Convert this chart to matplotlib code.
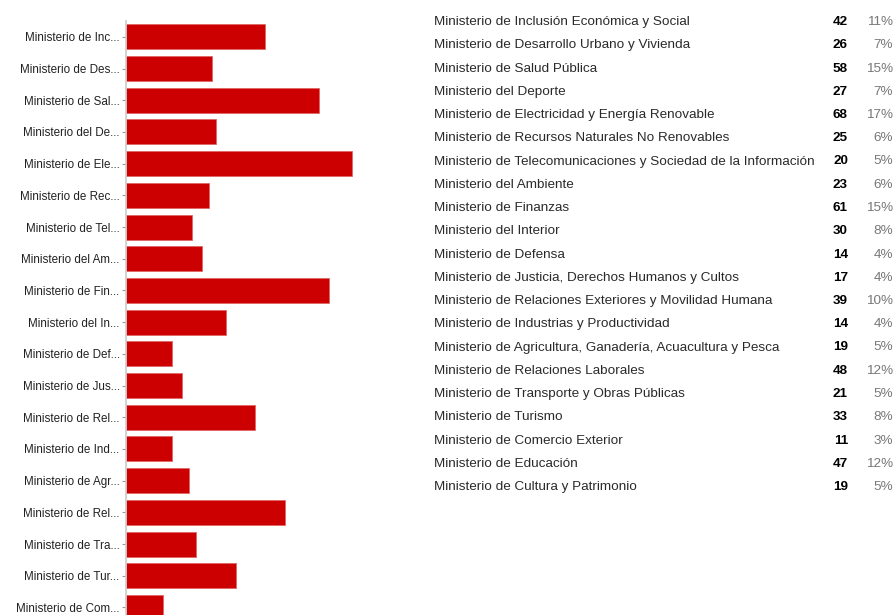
import matplotlib
matplotlib.use("Agg")
import matplotlib.pyplot as plt
import numpy as np

plt.rcParams['font.family'] = ['Liberation Sans', 'DejaVu Sans']

ministerios = [
    "Ministerio de Inclusión Económica y Social",
    "Ministerio de Desarrollo Urbano y Vivienda",
    "Ministerio de Salud Pública",
    "Ministerio del Deporte",
    "Ministerio de Electricidad y Energía Renovable",
    "Ministerio de Recursos Naturales No Renovables",
    "Ministerio de Telecomunicaciones y Sociedad de la Información",
    "Ministerio del Ambiente",
    "Ministerio de Finanzas",
    "Ministerio del Interior",
    "Ministerio de Defensa",
    "Ministerio de Justicia, Derechos Humanos y Cultos",
    "Ministerio de Relaciones Exteriores y Movilidad Humana",
    "Ministerio de Industrias y Productividad",
    "Ministerio de Agricultura, Ganadería, Acuacultura y Pesca",
    "Ministerio de Relaciones Laborales",
    "Ministerio de Transporte y Obras Públicas",
    "Ministerio de Turismo",
    "Ministerio de Comercio Exterior",
    "Ministerio de Educación",
    "Ministerio de Cultura y Patrimonio",
]
conteos = [42, 26, 58, 27, 68, 25, 20, 23, 61, 30, 14, 17, 39, 14, 19, 48, 21, 33, 11, 47, 19]
porcentajes = ["11%", "7%", "15%", "7%", "17%", "6%", "5%", "6%", "15%", "8%", "4%",
               "4%", "10%", "4%", "5%", "12%", "5%", "8%", "3%", "12%", "5%"]

etiquetas = [m[:17] + "..." for m in ministerios]

W, H = 895, 615
fig = plt.figure(figsize=(W / 100, H / 100), dpi=100)

# bar chart: the picture is cropped, so the axes stops at the bottom edge
n = len(conteos)
pitch = 31.7
top_px = 21.0
ax_h = H - top_px
ax = fig.add_axes([126 / W, 0, 249 / W, ax_h / H])
y = np.arange(n)
ax.barh(y, conteos, height=0.79, color="#cc0000", edgecolor="#e06666", linewidth=0.6)
ax.set_yticks(y)
ax.set_yticklabels(etiquetas, fontsize=8.4, color="#222222")
ax.set_ylim(-0.5 + ax_h / pitch, -0.5)
ax.set_xlim(0, 75)
ax.tick_params(axis="y", length=3, width=0.8, color="#999999", pad=1.5)
ax.set_xticks([])
for s in ["top", "right", "bottom"]:
    ax.spines[s].set_visible(False)
ax.spines["left"].set_color("#cccccc")
ax.spines["left"].set_linewidth(1.2)

# table on the right
row0 = 22.0
row_h = 23.25
for i in range(n):
    yy = 1 - (row0 + i * row_h) / H
    fig.text(434 / W, yy, ministerios[i], fontsize=9.7, color="#2a2a2a",
             ha="left", va="center")
    fig.text(848 / W, yy, str(conteos[i]), fontsize=9.7, color="#000000",
             fontweight="bold", ha="right", va="center")
    fig.text(893 / W, yy, porcentajes[i], fontsize=9.7, color="#777777",
             ha="right", va="center")

fig.savefig("out.png", dpi=100)
